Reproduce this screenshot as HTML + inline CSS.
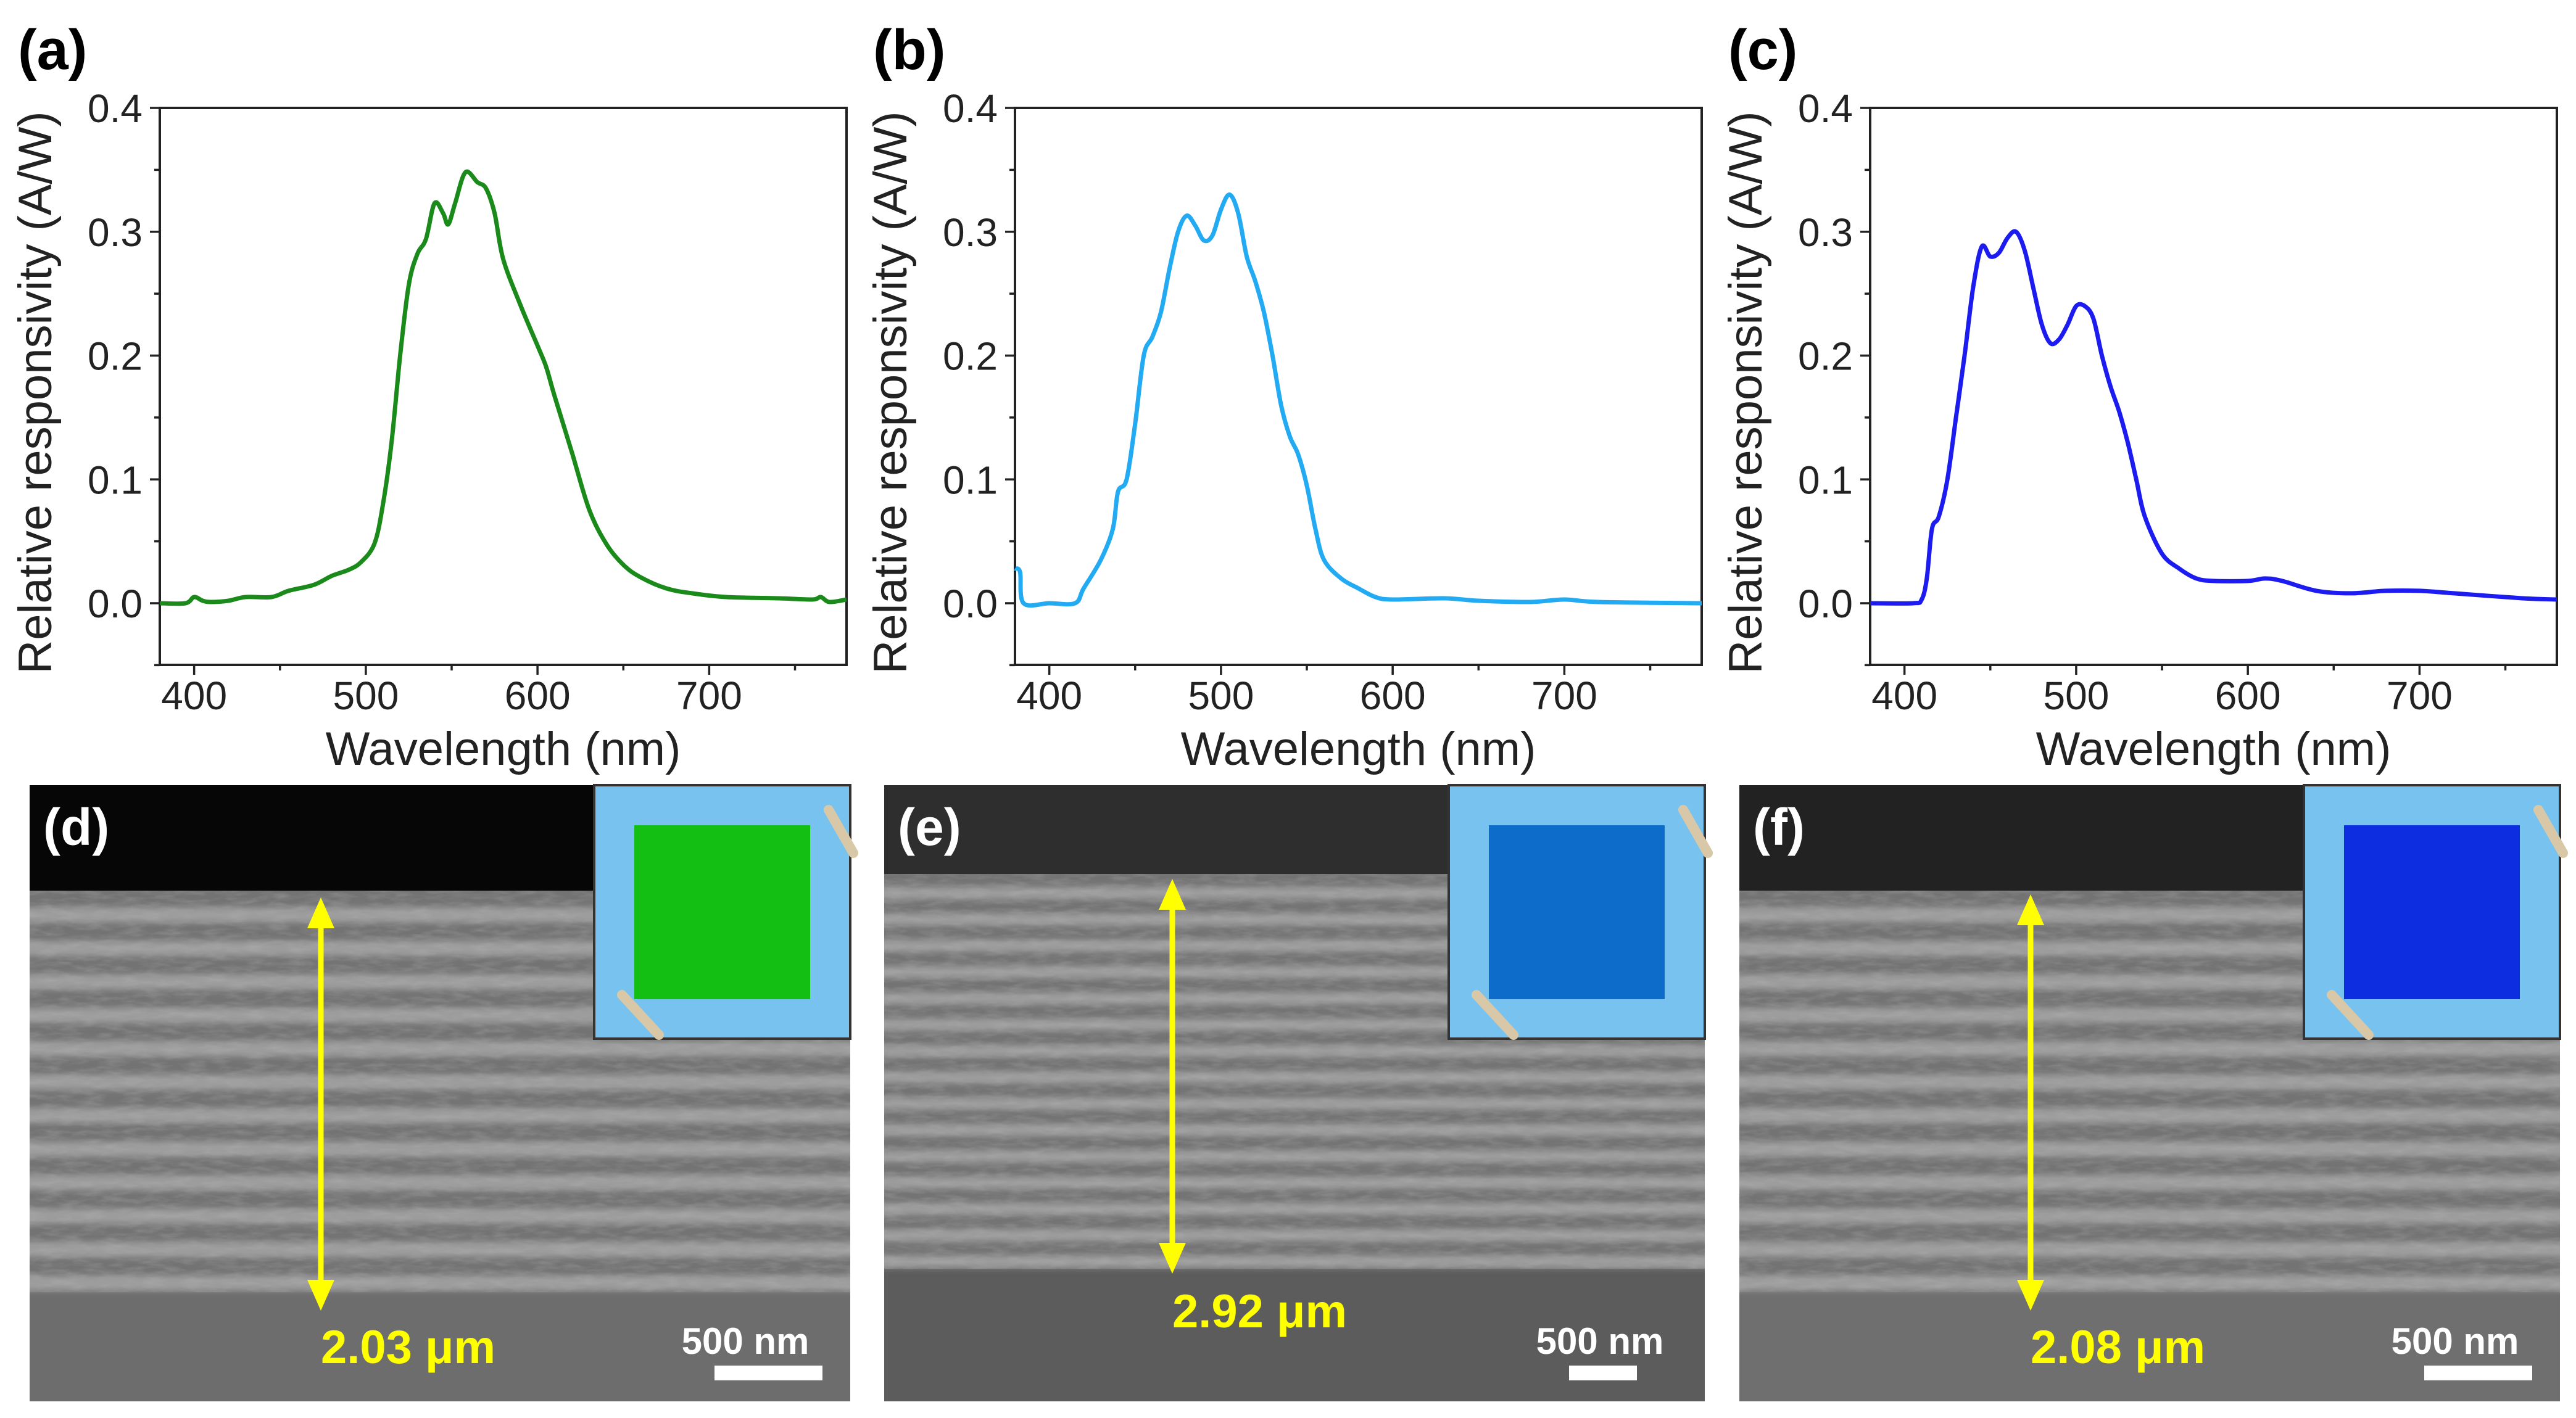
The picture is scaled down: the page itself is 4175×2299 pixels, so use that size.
<!DOCTYPE html>
<html><head><meta charset="utf-8">
<style>html,body{margin:0;padding:0;background:#fff;}svg{display:block;}</style>
</head><body>
<svg id="fig" width="4175" height="2299" viewBox="0 0 4175 2299" xmlns="http://www.w3.org/2000/svg" font-family="'Liberation Sans', sans-serif">
<defs>
<filter id="noise" x="0" y="0" width="100%" height="100%">
<feTurbulence type="fractalNoise" baseFrequency="0.03 0.12" numOctaves="3" seed="3"/>
<feColorMatrix type="matrix" values="0 0 0 0 0.5 0 0 0 0 0.5 0 0 0 0 0.5 0 0 0 1.2 -0.45"/>
</filter>
<filter id="soft"><feGaussianBlur stdDeviation="0 5"/></filter>
</defs>
<g id="charts"></g>
<g id="sems"></g>
</svg>
<script>
const ns="http://www.w3.org/2000/svg";
// ---- chart data ----
const xTicks=[400,500,600,700];
const yTicks=[0.0,0.1,0.2,0.3,0.4];
const yTickLabels=["0.0","0.1","0.2","0.3","0.4"];
const greenX=[380,395,400,405,410,420,430,445,455,470,480,490,497,505,510,515,520,525,530,535,540,545,548,552,558,565,570,575,580,590,600,605,610,620,630,640,650,660,675,690,710,740,760,765,770,780];
const greenY=[0,0,0.005,0.002,0.001,0.002,0.005,0.005,0.01,0.015,0.022,0.027,0.033,0.048,0.08,0.13,0.2,0.257,0.282,0.294,0.323,0.315,0.306,0.323,0.348,0.34,0.335,0.315,0.278,0.241,0.208,0.191,0.167,0.122,0.076,0.048,0.031,0.021,0.012,0.008,0.005,0.004,0.003,0.005,0.001,0.003];
const cyanX=[380,383,385,400,415,420,430,437,440,445,450,455,460,465,470,475,480,485,490,495,500,505,510,515,520,525,530,535,540,545,550,555,560,570,580,590,600,630,650,680,700,720,780];
const cyanY=[0.028,0.025,0,0,0,0.012,0.035,0.06,0.09,0.1,0.145,0.2,0.215,0.235,0.27,0.3,0.313,0.305,0.293,0.297,0.318,0.33,0.315,0.28,0.26,0.235,0.2,0.16,0.135,0.12,0.095,0.06,0.035,0.02,0.012,0.005,0.003,0.004,0.002,0.001,0.003,0.001,0];
const blueX=[380,405,410,413,416,420,425,430,435,440,445,450,455,460,465,470,475,480,485,490,495,500,505,510,515,520,525,530,535,540,550,560,570,580,600,610,620,640,660,680,700,720,760,780];
const blueY=[0,0,0.003,0.02,0.06,0.07,0.1,0.15,0.2,0.255,0.288,0.28,0.283,0.295,0.3,0.285,0.255,0.225,0.21,0.213,0.225,0.24,0.24,0.23,0.2,0.175,0.155,0.13,0.1,0.07,0.04,0.028,0.02,0.018,0.018,0.02,0.018,0.01,0.008,0.01,0.01,0.008,0.004,0.003];

function el(tag,attrs,parent,text){const e=document.createElementNS(ns,tag);for(const k in attrs)e.setAttribute(k,attrs[k]);if(text!==undefined)e.textContent=text;parent.appendChild(e);return e;}
function smooth(pts){let d="M"+pts[0][0].toFixed(1)+","+pts[0][1].toFixed(1);
 for(let i=0;i<pts.length-1;i++){const p0=pts[i-1]||pts[i],p1=pts[i],p2=pts[i+1],p3=pts[i+2]||p2;
  const c1=[p1[0]+(p2[0]-p0[0])/6,p1[1]+(p2[1]-p0[1])/6],c2=[p2[0]-(p3[0]-p1[0])/6,p2[1]-(p3[1]-p1[1])/6];
  d+="C"+c1[0].toFixed(1)+","+c1[1].toFixed(1)+" "+c2[0].toFixed(1)+","+c2[1].toFixed(1)+" "+p2[0].toFixed(1)+","+p2[1].toFixed(1);}
 return d;}

const panels=[
 {id:"a",left:259,xs:greenX,ys:greenY,color:"#1a8a1a"},
 {id:"b",left:1645,xs:cyanX,ys:cyanY,color:"#22aaf2"},
 {id:"c",left:3031,xs:blueX,ys:blueY,color:"#1c1cf0"}];
const charts=document.getElementById("charts");
panels.forEach(p=>{
 const L=p.left,R=L+1113,T=175,B=1078;
 const sx=v=>L+(v-380)/400*(R-L);
 const sy=v=>978-v/0.1*200.75;
 const g=el("g",{},charts);
 
 
 const lab=el("text",{x:L-230,y:112,"font-size":92,"font-weight":"bold"},g,"("+p.id+")");
 
 
 const fr=el("rect",{x:L,y:T,width:R-L,height:B-T,fill:"none",stroke:"#222","stroke-width":4},g);
 
 
 for(let v=400;v<=780;v+=50){const major=v%100===0;el("line",{x1:sx(v),x2:sx(v),y1:B,y2:B+(major?16:9),stroke:"#222","stroke-width":3.5},g);}
 xTicks.forEach(v=>{const t=el("text",{x:sx(v),y:1150,"font-size":64,"text-anchor":"middle",fill:"#222"},g,String(v));
  
  });
 for(let v=-0.05;v<=0.401;v+=0.05){const major=Math.abs(Math.round(v*10)-v*10)<1e-6;el("line",{x1:L,x2:L-(major?16:9),y1:sy(v),y2:sy(v),stroke:"#222","stroke-width":3.5},g);}
 yTicks.forEach((v,i)=>{const t=el("text",{x:L-28,y:sy(v)+23,"font-size":64,"text-anchor":"end",fill:"#222"},g,yTickLabels[i]);
  
  });
 const xt=el("text",{x:(L+R)/2,y:1240,"font-size":76,"text-anchor":"middle",fill:"#222"},g,"Wavelength (nm)");
 
 
 const cy=(T+B)/2+10;
 const yt=el("text",{x:0,y:0,"font-size":76,"text-anchor":"middle",fill:"#222",transform:`translate(${L-176},${cy}) rotate(-90)`},g,"Relative responsivity (A/W)");
 
 
 const pts=p.xs.map((x,i)=>[sx(x),sy(p.ys[i])]);
 const ln=el("path",{d:smooth(pts),fill:"none",stroke:p.color,"stroke-width":7,"stroke-linejoin":"round"},g);
 
 
});

// ---- SEM images ----
const sems=[
 {id:"d",x:48,topEnd:1444,subStart:2095,topCol:"#060606",n:12,sq:"#12bf12",sub:"#6d6d6d",arrowX:520,a1:1455,a2:2125,label:"2.03 μm",lx:520},
 {id:"e",x:1433,topEnd:1417,subStart:2057,topCol:"#2e2e2e",n:15,sq:"#0d6cc9",sub:"#5c5c5c",arrowX:1900,a1:1425,a2:2065,label:"2.92 μm",lx:1900},
 {id:"f",x:2819,topEnd:1444,subStart:2095,topCol:"#222",n:12,sq:"#0c2ee0",sub:"#6f6f6f",arrowX:3291,a1:1450,a2:2125,label:"2.08 μm",lx:3291}];
const sg=document.getElementById("sems");
sems.forEach(s=>{
 const W=1330,T=1273,B=2272;
 const g=el("g",{},sg);
 
 
 el("rect",{x:s.x,y:T,width:W,height:B-T,fill:s.sub},g);
 el("rect",{x:s.x,y:T,width:W,height:s.topEnd-T,fill:s.topCol},g);
 const h=s.subStart-s.topEnd, per=h/s.n;
 el("rect",{x:s.x,y:s.topEnd,width:W,height:h,fill:"#737373"},g);
 const sgp=el("g",{filter:"url(#soft)"},g);
 for(let i=0;i<s.n;i++){el("rect",{x:s.x,y:s.topEnd+per*(i+0.5),width:W,height:per*0.45,fill:"#a4a4a4",opacity:0.85},sgp);}
 el("rect",{x:s.x,y:s.topEnd,width:W,height:h,filter:"url(#noise)",opacity:0.45},g);
 const ix=s.x+W-415, iy=T;
 const ins=el("g",{},g);
 
 
 el("rect",{x:ix,y:iy,width:415,height:411,fill:"#78c2ef",stroke:"#333","stroke-width":4},ins);
 el("rect",{x:ix+65,y:iy+65,width:285,height:282,fill:s.sq},ins);
 el("line",{x1:ix+380,y1:iy+40,x2:ix+420,y2:iy+110,stroke:"#d8c8a8","stroke-width":16,"stroke-linecap":"round"},ins);
 el("line",{x1:ix+45,y1:iy+340,x2:ix+105,y2:iy+405,stroke:"#d8c8a8","stroke-width":16,"stroke-linecap":"round"},ins);
 const pl=el("text",{x:s.x+22,y:T+97,"font-size":84,"font-weight":"bold",fill:"#fff"},g,"("+s.id+")");
 
 
 const ar=el("g",{},g);
 
 
 el("line",{x1:s.arrowX,y1:s.a1+40,x2:s.arrowX,y2:s.a2-40,stroke:"#ffff00","stroke-width":9},ar);
 el("polygon",{points:`${s.arrowX-22},${s.a1+50} ${s.arrowX+22},${s.a1+50} ${s.arrowX},${s.a1}`,fill:"#ffff00"},ar);
 el("polygon",{points:`${s.arrowX-22},${s.a2-50} ${s.arrowX+22},${s.a2-50} ${s.arrowX},${s.a2}`,fill:"#ffff00"},ar);
 const tl=el("text",{x:s.lx,y:s.id==="e"?2152:2210,"font-size":76,"font-weight":"bold",fill:"#ffff00"},g,s.label);
 
 
 const sbx=s.x+W-250;
 const st=el("text",{x:sbx+80,y:2195,"font-size":60,"font-weight":"bold",fill:"#fff","text-anchor":"middle"},g,"500 nm");
 
 
 const sb=el("rect",{x:sbx+30,y:2214,width:(s.id==="e"?110:175),height:24,fill:"#fff"},g);
 
 
});
</script>
</body></html>
